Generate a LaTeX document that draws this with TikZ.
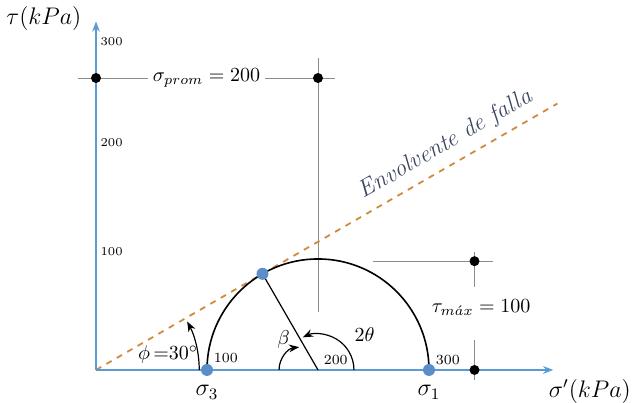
\documentclass[tikz,border=0pt]{standalone}
\usepackage{amsmath}
\usepackage{tikz}
\usetikzlibrary{positioning,arrows.meta,calc}
\definecolor{axisc}{HTML}{5B9BD5}
\definecolor{ptc}{HTML}{5B8EC9}
\definecolor{envc}{HTML}{D08A3E}
\definecolor{envtxt}{HTML}{3A4660}
\definecolor{guidec}{HTML}{8C8C8C}

\begin{document}
\begin{tikzpicture}[
  x=1.95cm,y=1.95cm,
  >={Stealth[length=1.8mm]},
  axisln/.style={draw=axisc,line width=1pt},
  guideln/.style={draw=guidec,thin},
  envln/.style={draw=envc,dashed,line width=0.9pt},
  bluedot/.style={circle,fill=ptc,inner sep=0pt,minimum size=6pt},
  blackdot/.style={circle,fill=black,inner sep=0pt,minimum size=5pt},
  ticklbl/.style={font=\fontsize{6}{7}\selectfont,inner sep=1pt,anchor=west},
  vallbl/.style={font=\scriptsize,inner sep=1pt}
]
\useasboundingbox (-0.865,-0.297) rectangle (4.829,3.333);
% axes
\coordinate (O) at (0,0);
\coordinate (xend) at (4.12,0);
\coordinate (yend) at (0,3.14);
\node[font=\large] (taulbl) at (-0.47,3.17) {$\tau(kPa)$};
\node[font=\large] (siglbl) at (4.45,-0.19) {$\sigma'(kPa)$};
\node[ticklbl] (t300) at (0.02,2.955) {300};
\node[ticklbl] (t200) at (0.02,2.045) {200};
\node[ticklbl] (t100) at (0.02,1.063) {100};
% guides sigma_prom
\coordinate (gl) at (-0.16,2.63);
\coordinate (gr) at (2.15,2.63);
\coordinate (gtop) at (2,2.81);
\coordinate (gbot) at (2,0.52);
\draw[guideln] (gl) -- node[fill=white,inner sep=2.5pt] (prom) {$\sigma_{prom} = 200$} (gr);
\draw[guideln] (gtop) -- (gbot);
% guides tau_max
\coordinate (hl) at (2.495,0.98);
\coordinate (hr) at (3.577,0.98);
\coordinate (vt) at (3.41,1.06);
\coordinate (vb) at (3.41,0.75);
\coordinate (wt) at (3.41,0.27);
\coordinate (wb) at (3.41,-0.09);
\draw[guideln] (hl) -- (hr);
\draw[guideln] (vt) -- (vb);
\draw[guideln] (wt) -- (wb);
\node (tmax) at (3.47,0.56) {$\tau_{m\acute{a}x} = 100$};
% failure envelope
\coordinate (envend) at (30:4.8);
\draw[envln] (O) -- node[pos=0.78,sloped,above=1pt,text=envtxt,font=\large\itshape] (envlbl) {Envolvente de falla} (envend);
\draw[->,axisln] (O) -- (xend);
\draw[->,axisln] (O) -- (yend);
% Mohr circle
\coordinate (c) at (2,0);
\coordinate (T) at (30:1.732);
\draw[thick] (3,0) arc (0:180:1);
\draw[semithick] (T) -- (c);
% angles
\draw[->,semithick] (0.93,0) arc (0:28:0.93);
\node (phi) at (0.65,0.135) {$\phi\,{=}30^\circ$};
\draw[->,semithick] (1.649,0) arc (180:97:0.207);
\node (beta) at (1.69,0.27) {$\beta$};
\draw[->,semithick] (2.324,0) arc (0:115:0.324);
\node (twoth) at (2.42,0.315) {$2\theta$};
\node[vallbl] (v100) at (1.17,0.105) {100};
\node[vallbl] (v200) at (2.16,0.09) {200};
\node[vallbl] (v300) at (3.17,0.09) {300};
% points
\node[bluedot] (s3) at (1,0) {};
\node[bluedot] (s1) at (3,0) {};
\node[bluedot] (tp) at (T) {};
\node[blackdot] (pl) at (0,2.63) {};
\node[blackdot] (pr) at (2,2.63) {};
\node[blackdot] (tm) at (3.41,0.98) {};
\node[blackdot] (tb) at (3.41,0) {};
\node[font=\large,below=1pt of s3] (s3lbl) {$\sigma_3$};
\node[font=\large,below=1pt of s1] (s1lbl) {$\sigma_1$};
\end{tikzpicture}
\end{document}
